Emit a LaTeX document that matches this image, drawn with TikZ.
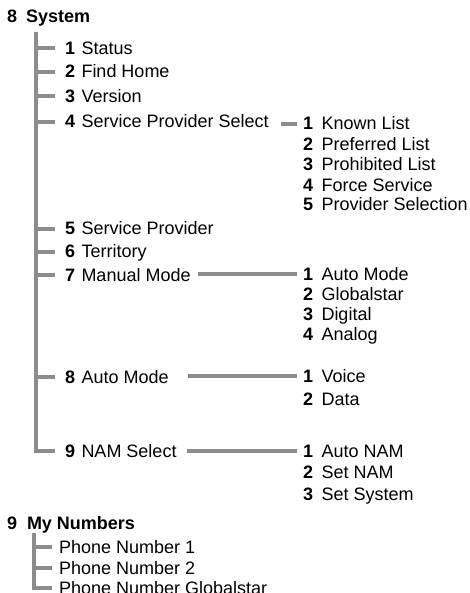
\documentclass[tikz,border=0pt]{standalone}
\usepackage{fontspec}
\setmainfont{Liberation Sans}
\usetikzlibrary{calc}
\definecolor{linegray}{RGB}{140,140,140}
\tikzset{
  txt/.style={anchor=base west, inner sep=0pt, outer sep=0pt, font=\fontsize{18pt}{20pt}\selectfont},
  num/.style={txt, font=\fontsize{18pt}{20pt}\selectfont\bfseries},
  bar/.style={draw=linegray, line width=4pt},
}
\begin{document}
\begin{tikzpicture}[x=1pt,y=-1pt]
\useasboundingbox (0,0) rectangle (470,593);
% ---------- heading 8 System ----------
\node[num] (h8) at (7,23) {8};
\node[num] (sys) at (26,23) {System};
\coordinate (trunktop) at (35.5,32);
% ---------- left items ----------
\node[num] (l1) at (65,54.5) {1};   \node[txt] (l1t) at (81.5,54.5) {Status};
\node[num] (l2) at (65,78) {2};     \node[txt] (l2t) at (81.5,78) {Find Home};
\node[num] (l3) at (65,102.5) {3};  \node[txt] (l3t) at (81.5,102.5) {Version};
\node[num] (l4) at (65,128) {4};    \node[txt] (sps) at (81.5,128) {Service Provider Select};
\node[num] (l5) at (65,235) {5};    \node[txt] (l5t) at (81.5,235) {Service Provider};
\node[num] (l6) at (65,258) {6};    \node[txt] (l6t) at (81.5,258) {Territory};
\node[num] (l7) at (65,281.5) {7};  \node[txt] (man) at (81.5,281.5) {Manual Mode};
\node[num] (l8) at (65,383) {8};    \node[txt] (aut) at (81.5,383) {Auto Mode};
\node[num] (l9) at (65,457) {9};    \node[txt] (nam) at (81.5,457) {NAM Select};
% ---------- right: Service Provider Select ----------
\node[num] (a1) at (303,130) {1};   \node[txt] at (321.5,130) {Known List};
\node[num] (a2) at (303,150.5) {2}; \node[txt] at (321.5,150.5) {Preferred List};
\node[num] (a3) at (303,171) {3};   \node[txt] at (321.5,171) {Prohibited List};
\node[num] (a4) at (303,191.5) {4}; \node[txt] at (321.5,191.5) {Force Service};
\node[num] (a5) at (303,211) {5};   \node[txt] at (321.5,211) {Provider Selection};
% ---------- right: Manual Mode ----------
\node[num] (b1) at (303,280) {1};   \node[txt] at (321.5,280) {Auto Mode};
\node[num] (b2) at (303,300) {2};   \node[txt] at (321.5,300) {Globalstar};
\node[num] (b3) at (303,320) {3};   \node[txt] at (321.5,320) {Digital};
\node[num] (b4) at (303,340) {4};   \node[txt] at (321.5,340) {Analog};
% ---------- right: Auto Mode ----------
\node[num] (c1) at (303,382) {1};   \node[txt] at (321.5,382) {Voice};
\node[num] (c2) at (303,405) {2};   \node[txt] at (321.5,405) {Data};
% ---------- right: NAM Select ----------
\node[num] (d1) at (303,457) {1};   \node[txt] at (321.5,457) {Auto NAM};
\node[num] (d2) at (303,478) {2};   \node[txt] at (321.5,478) {Set NAM};
\node[num] (d3) at (303,500) {3};   \node[txt] at (321.5,500) {Set System};
% ---------- tree lines ----------
\foreach \nm in {l1,l2,l3,l4,l5,l6,l7,l8}{
  \draw[bar] let \p1=(trunktop), \p2=(\nm.west) in (\x1,\y2) -- (\x2-10.5pt,\y2);
}
\draw[bar] let \p1=(trunktop), \p2=(l9.west) in (\x1,\y1) -- (\x1,\y2) -- (\x2-10.5pt,\y2);
% ---------- connectors ----------
\draw[bar] let \p1=(sps.east), \p2=(a1.west) in (\x1+12.5pt,\y2) -- (\x2-6pt,\y2);
\draw[bar] let \p1=(man.east), \p2=(b1.west) in (\x1+7.5pt,\y2) -- (\x2-6pt,\y2);
\draw[bar] let \p1=(aut.east), \p2=(c1.west) in (\x1+19.5pt,\y2) -- (\x2-6pt,\y2);
\draw[bar] let \p1=(nam.east), \p2=(d1.west) in (\x1+10.5pt,\y2) -- (\x2-6pt,\y2);
% ---------- heading 9 My Numbers ----------
\node[num] (h9) at (7,529) {9};
\node[num] (myn) at (27,529) {My Numbers};
\coordinate (ptop) at (34,533);
\node[txt] (p1) at (59,553) {Phone Number 1};
\node[txt] (p2) at (59,574.5) {Phone Number 2};
\node[txt] (p3) at (59,594) {Phone Number Globalstar};
\foreach \nm in {p1,p2}{
  \draw[bar] let \p1=(ptop), \p2=(\nm.west) in (\x1,\y2) -- (\x2-7pt,\y2);
}
\draw[bar] let \p1=(ptop), \p2=(p3.west) in (\x1,\y1) -- (\x1,\y2) -- (\x2-7pt,\y2);
\end{tikzpicture}
\end{document}
